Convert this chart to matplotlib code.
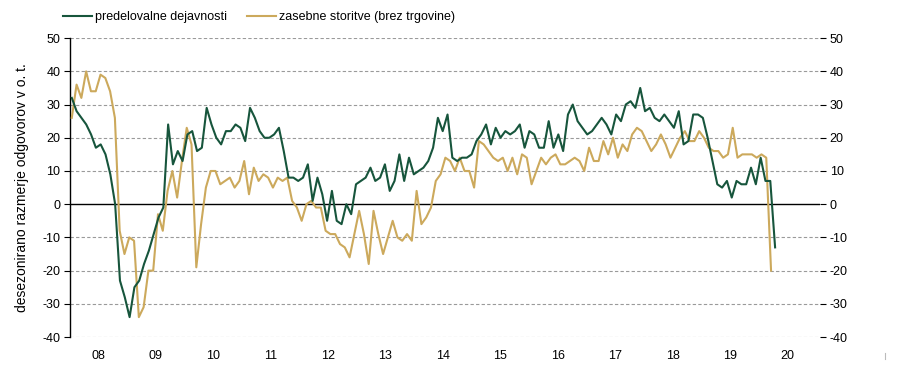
import numpy as np
import matplotlib
matplotlib.use("Agg")
import matplotlib.pyplot as plt
from matplotlib.lines import Line2D

plt.rcParams['font.family'] = ['Liberation Sans Narrow', 'Liberation Sans', 'DejaVu Sans']
plt.rcParams['axes.unicode_minus'] = False

# monthly, from Jan 2008
predelovalne = [32, 28, 26, 24, 21, 17, 18, 15, 9, 0,
                -23, -28, -34, -25, -23, -18, -14, -9, -4, -1,
                24, 12, 16, 13, 21, 22, 16, 17, 29, 24,
                20, 18, 22, 22, 24, 23, 19, 29, 26, 22,
                20, 20, 21, 23, 16, 8, 8, 7, 8, 12,
                1, 8, 3, -5, 4, -5, -6, 0, -3, 6,
                7, 8, 11, 7, 8, 12, 4, 7, 15, 7,
                14, 9, 10, 11, 13, 17, 26, 22, 27, 14,
                13, 14, 14, 15, 19, 21, 24, 18, 23, 20,
                22, 21, 22, 24, 17, 22, 21, 17, 17, 25,
                17, 21, 16, 27, 30, 25, 23, 21, 22, 24,
                26, 24, 21, 27, 25, 30, 31, 29, 35, 28,
                29, 26, 25, 27, 25, 23, 28, 18, 19, 27,
                27, 26, 20, 13, 6, 5, 7, 2, 7, 6,
                6, 11, 6, 14, 7, 7, -13]

storitve = [26, 36, 32, 40, 34, 34, 39, 38, 34, 26,
            -8, -15, -10, -11, -34, -31, -20, -20, -3, -8,
            4, 10, 2, 13, 23, 18, -19, -6, 5, 10,
            10, 6, 7, 8, 5, 7, 13, 3, 11, 7,
            9, 8, 5, 8, 7, 8, 1, -1, -5, 0,
            1, -1, -1, -8, -9, -9, -12, -13, -16, -9,
            -2, -9, -18, -2, -9, -15, -10, -5, -10, -11,
            -9, -11, 4, -6, -4, -1, 7, 9, 14, 13,
            10, 14, 10, 10, 5, 19, 18, 16, 14, 13,
            14, 10, 14, 9, 15, 14, 6, 10, 14, 12,
            14, 15, 12, 12, 13, 14, 13, 10, 17, 13,
            13, 19, 15, 20, 14, 18, 16, 21, 23, 22,
            19, 16, 18, 21, 18, 14, 17, 20, 22, 19,
            19, 22, 20, 17, 16, 16, 14, 15, 23, 14,
            15, 15, 15, 14, 15, 14, -20]

leta = ["08", "09", "10", "11", "12", "13", "14", "15", "16", "17", "18", "19", "20"]

GREEN = "#17553c"
GOLD = "#cca95c"

fig = plt.figure(figsize=(9, 3.7), dpi=100)
rect = [0.078, 0.089, 0.833, 0.808]

# primary axes: services + grid + left scale + years
ax = fig.add_axes(rect)
ax.plot(np.arange(len(storitve)), storitve, color=GOLD, lw=1.5,
        label="zasebne storitve (brez trgovine)", zorder=3)
ax.set_xlim(-0.33, 156.2)
ax.set_ylim(-40, 50)
yt = np.arange(-40, 51, 10)
ax.set_yticks(yt)
for v in yt:
    if v == 0:
        ax.axhline(0, color="black", lw=1.0, zorder=2)
    else:
        ax.axhline(v, color="#9a9a9a", lw=0.8, ls=(0, (3, 2)), zorder=1)

ax.set_xticks([12 * k + 5.5 for k in range(len(leta))])
ax.set_xticklabels(leta)
ax.tick_params(axis='x', length=0, pad=9, labelsize=9)
ax.tick_params(axis='y', direction='out', length=4, width=0.8, labelsize=9, pad=3)
for s in ['top', 'bottom', 'right']:
    ax.spines[s].set_visible(False)
ax.spines['left'].set_linewidth(1.0)
ax.set_ylabel("desezonirano razmerje odgovorov v o. t.", fontsize=10, labelpad=10)

# secondary axes: manufacturing on its own category axis + right scale
axg = fig.add_axes(rect, frameon=False)
axg.plot(np.arange(len(predelovalne)), predelovalne, color=GREEN, lw=1.5,
         label="predelovalne dejavnosti", zorder=4)
axg.set_xlim(-0.33, 155.3)
axg.set_ylim(-40, 50)
axg.set_yticks(yt)
axg.yaxis.tick_right()
axg.set_xticks([])
axg.tick_params(axis='y', direction='out', length=4, width=0.8, labelsize=9, pad=3)
axg.spines['right'].set_visible(True)
axg.spines['right'].set_linewidth(1.0)

handles = [Line2D([], [], color=GREEN, lw=1.5), Line2D([], [], color=GOLD, lw=1.5)]
labels = ["predelovalne dejavnosti", "zasebne storitve (brez trgovine)"]
fig.legend(handles, labels, loc='upper left', bbox_to_anchor=(0.058, 1.0), ncol=2,
           frameon=False, fontsize=9, handlelength=2.3, handletextpad=0.25,
           columnspacing=1.6)

fig.add_artist(Line2D([0.983, 0.983], [0.03, 0.045], color="#bbbbbb", lw=0.8))

fig.savefig("out.png", dpi=100)
